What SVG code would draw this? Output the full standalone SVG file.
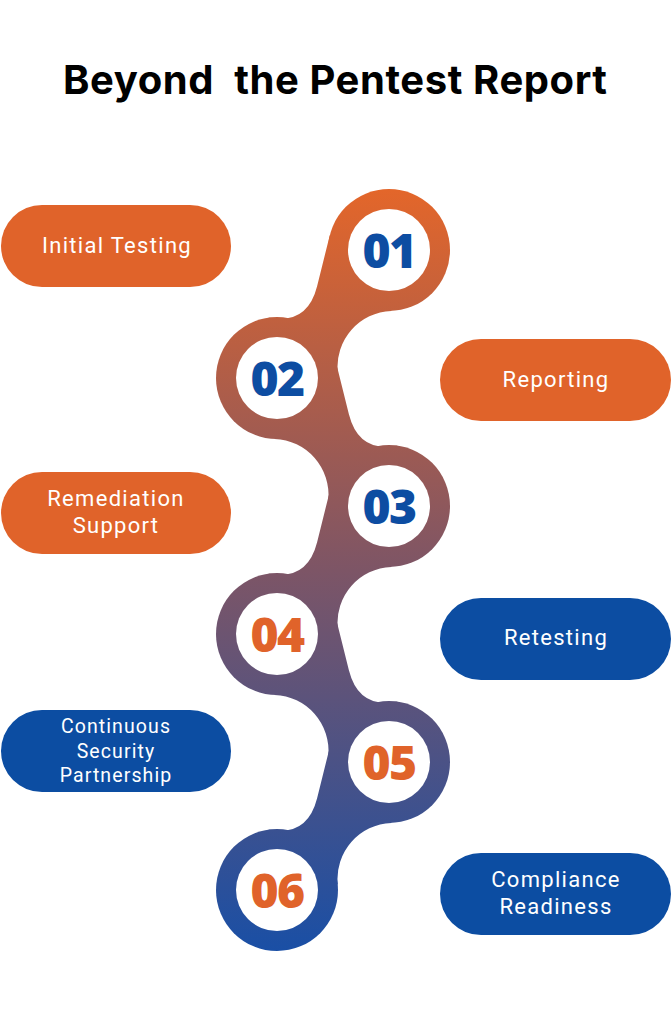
<svg xmlns="http://www.w3.org/2000/svg" width="671" height="1024" viewBox="0 0 671 1024">
  <style>
    .title { font-family: Inter, "Liberation Sans", sans-serif; font-weight: 700; font-size: 40px; fill: #000; white-space: pre; }
    .pill-o { fill: #E0632A; }
    .pill-b { fill: #0C4DA2; }
    .lbl { font-family: Roboto, "Liberation Sans", sans-serif; font-weight: 400; font-size: 22px; fill: #fff; text-anchor: middle; letter-spacing: 1.3px; }
    .lbl-s { font-size: 19.5px; letter-spacing: 1.1px; }
    .ring { fill: url(#chainGrad); }
    .hole { fill: #fff; }
    .num { font-family: "Open Sans", "Liberation Sans", sans-serif; font-weight: 800; font-size: 48px; text-anchor: middle; letter-spacing: -1.5px; }
    .num-b { fill: #0D4DA2; }
    .num-o { fill: #E0632A; }
  </style>
  <defs>
    <linearGradient id="chainGrad" gradientUnits="userSpaceOnUse" x1="0" y1="190" x2="0" y2="950">
      <stop offset="0" stop-color="#E3662A"/>
      <stop offset="0.5" stop-color="#7D5566"/>
      <stop offset="1" stop-color="#1A4FA5"/>
    </linearGradient>
  </defs>

  <rect width="671" height="1024" fill="#fff"/>

  <text class="title" x="335" y="94" text-anchor="middle" textLength="544" xml:space="preserve">Beyond  the Pentest Report</text>

  <!-- connectors: necks of the chain -->
  <g id="connectors" class="ring">
    <path d="M389,250 L329.8,235.2 L317.1,286.2 Q307.3,325 268.7,317.6 L277,378 L337.73,372.22 A56 56 0 0 1 391.34,310.96 Z"/>
    <path d="M277,378 L336.2,363.2 L348.9,414.2 Q358.7,453 397.3,445.6 L389,506 L328.27,500.22 A56 56 0 0 0 274.66,438.96 Z"/>
    <path d="M389,506 L329.8,491.2 L317.1,542.2 Q307.3,581 268.7,573.6 L277,634 L337.73,628.22 A56 56 0 0 1 391.34,566.96 Z"/>
    <path d="M277,634 L336.2,619.2 L348.9,670.2 Q358.7,709 397.3,701.6 L389,762 L328.27,756.22 A56 56 0 0 0 274.66,694.96 Z"/>
    <path d="M389,762 L329.8,747.2 L317.1,798.2 Q307.3,837 268.7,829.6 L277,890 L337.73,884.22 A56 56 0 0 1 391.34,822.96 Z"/>
  </g>

  <!-- step circles -->
  <g id="step-01">
    <circle class="ring" cx="389" cy="250" r="61"/>
    <circle class="hole" cx="389" cy="250" r="41"/>
    <text class="num num-b" x="389" y="268">01</text>
  </g>
  <g id="step-02">
    <circle class="ring" cx="277" cy="378" r="61"/>
    <circle class="hole" cx="277" cy="378" r="41"/>
    <text class="num num-b" x="277" y="396">02</text>
  </g>
  <g id="step-03">
    <circle class="ring" cx="389" cy="506" r="61"/>
    <circle class="hole" cx="389" cy="506" r="41"/>
    <text class="num num-b" x="389" y="524">03</text>
  </g>
  <g id="step-04">
    <circle class="ring" cx="277" cy="634" r="61"/>
    <circle class="hole" cx="277" cy="634" r="41"/>
    <text class="num num-o" x="277" y="652">04</text>
  </g>
  <g id="step-05">
    <circle class="ring" cx="389" cy="762" r="61"/>
    <circle class="hole" cx="389" cy="762" r="41"/>
    <text class="num num-o" x="389" y="780">05</text>
  </g>
  <g id="step-06">
    <circle class="ring" cx="277" cy="890" r="61"/>
    <circle class="hole" cx="277" cy="890" r="41"/>
    <text class="num num-o" x="277" y="908">06</text>
  </g>

  <!-- label pills -->
  <g id="initial-testing">
    <rect class="pill-o" x="1" y="205" width="230" height="82" rx="41"/>
    <text class="lbl" x="117" y="253">Initial Testing</text>
  </g>
  <g id="reporting">
    <rect class="pill-o" x="440" y="339" width="231" height="82" rx="41"/>
    <text class="lbl" x="556" y="387">Reporting</text>
  </g>
  <g id="remediation-support">
    <rect class="pill-o" x="1" y="472" width="230" height="82" rx="41"/>
    <text class="lbl" x="116" y="506">Remediation</text>
    <text class="lbl" x="116" y="533">Support</text>
  </g>
  <g id="retesting">
    <rect class="pill-b" x="440" y="598" width="231" height="82" rx="41"/>
    <text class="lbl" x="556" y="645">Retesting</text>
  </g>
  <g id="continuous-security-partnership">
    <rect class="pill-b" x="1" y="710" width="230" height="82" rx="41"/>
    <text class="lbl lbl-s" x="116" y="733">Continuous</text>
    <text class="lbl lbl-s" x="116" y="758">Security</text>
    <text class="lbl lbl-s" x="116" y="782">Partnership</text>
  </g>
  <g id="compliance-readiness">
    <rect class="pill-b" x="440" y="853" width="231" height="82" rx="41"/>
    <text class="lbl" x="556" y="887">Compliance</text>
    <text class="lbl" x="556" y="914">Readiness</text>
  </g>
</svg>
